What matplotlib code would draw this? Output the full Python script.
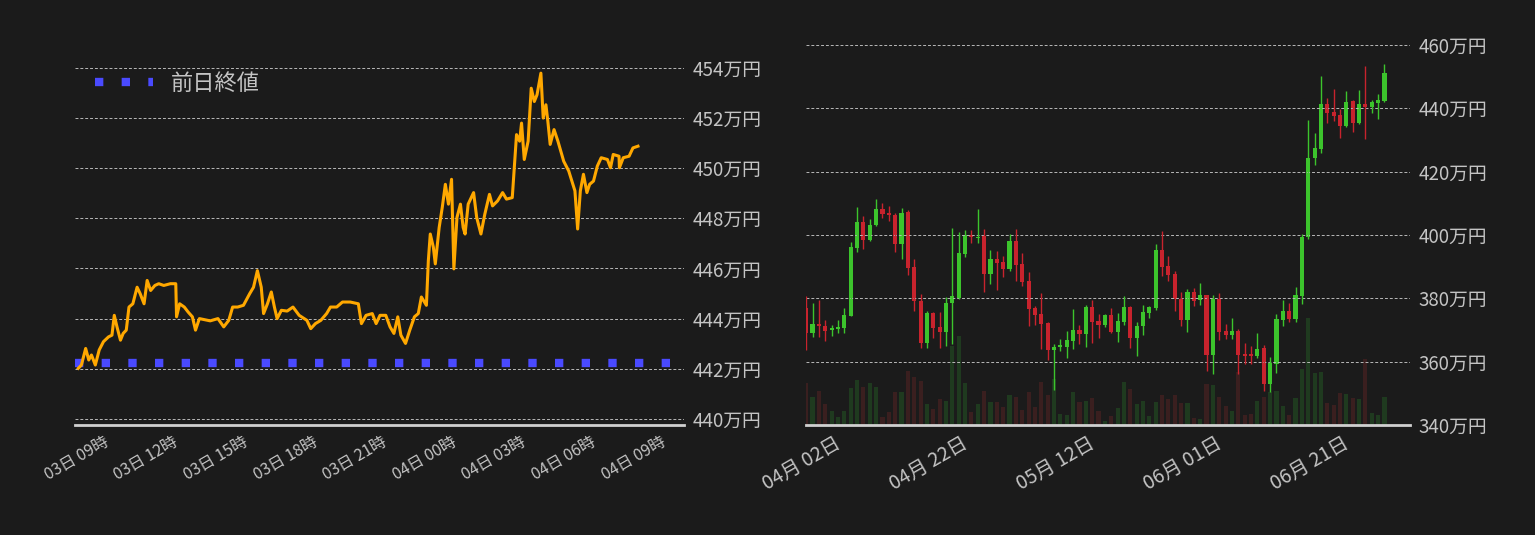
"""Intraday price line and daily candlestick chart (dark theme)."""

import datetime as dt

import matplotlib
matplotlib.use("Agg")
import matplotlib.dates as mdates
import matplotlib.pyplot as plt
from matplotlib.ticker import FuncFormatter

plt.rcParams["font.family"] = ["Noto Sans CJK JP", "DejaVu Sans"]

BG = "#1b1b1b"
TEXT = "#c4c4c4"
UP = "#3cc42c"
DOWN = "#c8232d"

# ---- left: intraday (minutes after 03日 07:22, price in 万円)
intraday_start = dt.datetime(2024, 6, 3, 7, 22)
elapsed_min = [
    12, 20, 31, 39, 46, 56, 66, 77, 90, 99, 105, 112, 121, 128, 136, 143, 153, 164, 172, 182,
    190, 199, 210, 220, 233, 250, 264, 266, 274, 286, 296, 307, 315, 325, 337, 353, 373, 388, 401, 411,
    424, 439, 455, 465, 475, 485, 491, 501, 511, 519, 526, 537, 552, 567, 583, 603, 613, 625, 639, 654,
    664, 680, 695, 715, 736, 744, 756, 772, 782, 792, 807, 818, 828, 838, 846, 858, 869, 881, 891, 899,
    912, 917, 922, 930, 935, 945, 953, 961, 969, 977, 983, 991, 1000, 1007, 1012, 1020, 1034, 1042, 1053, 1063,
    1075, 1083, 1096, 1109, 1119, 1134, 1145, 1153, 1158, 1165, 1175, 1183, 1191, 1198, 1208, 1214, 1221, 1226, 1232, 1242,
    1252, 1257, 1267, 1280, 1288, 1296, 1303, 1310, 1318, 1327, 1334, 1344, 1354, 1364, 1380, 1388, 1395, 1410, 1411, 1421,
    1436, 1446, 1459,
]
price = [
    442.02, 442.15, 442.81, 442.35, 442.55, 442.15, 442.75, 443.08, 443.27, 443.34,
    444.13, 443.67, 443.14, 443.41, 443.54, 444.46, 444.59, 445.25, 444.99, 444.59,
    445.52, 445.12, 445.32, 445.39, 445.32, 445.39, 445.39, 444.07, 444.59, 444.46,
    444.26, 444.07, 443.54, 444.00, 443.96, 443.91, 444.00, 443.67, 443.93, 444.46,
    444.46, 444.53, 444.99, 445.25, 445.91, 445.25, 444.20, 444.59, 445.06, 444.46,
    444.00, 444.33, 444.30, 444.46, 444.13, 443.93, 443.60, 443.80, 443.93, 444.20,
    444.46, 444.46, 444.66, 444.66, 444.59, 443.80, 444.13, 444.20, 443.80, 444.13,
    444.13, 443.67, 443.41, 444.07, 443.34, 443.01, 443.54, 444.07, 444.20, 444.86,
    444.53, 446.31, 447.37, 446.84, 446.18, 447.63, 448.43, 449.35, 448.56, 449.55,
    445.98, 448.03, 448.56, 447.63, 447.37, 448.56, 449.02, 448.03, 447.37, 448.16,
    448.95, 448.49, 448.69, 449.02, 448.76, 448.82, 451.33, 451.07, 451.79, 450.34,
    451.07, 453.18, 452.65, 452.92, 453.78, 451.99, 452.52, 451.86, 450.94, 451.53,
    451.07, 450.80, 450.27, 449.88, 449.48, 449.09, 447.57, 449.09, 449.75, 449.02,
    449.35, 449.48, 450.08, 450.41, 450.34, 450.01, 450.54, 450.47, 450.01, 450.41,
    450.47, 450.80, 450.87,
]
prev_close = 442.22

# ---- right: daily candles (万円) and volume (relative)
first_day = dt.date(2024, 3, 27)
open_ = [
    376.8, 369.2, 371.9, 371.2, 370.1, 370.4, 370.7, 374.5, 396.0, 404.1, 398.5, 403.0, 408.2, 407.0, 406.3, 397.0,
    407.3, 389.9, 379.2, 366.0, 375.4, 371.0, 369.5, 378.5, 380.2, 394.1, 400.0, 399.0, 399.7, 387.8, 392.4, 391.4,
    389.1, 398.1, 390.8, 385.5, 376.9, 375.0, 372.2, 363.8, 364.7, 364.7, 366.6, 370.0, 368.8, 377.3, 372.8, 371.7,
    374.7, 369.4, 372.6, 377.3, 367.6, 371.1, 375.5, 376.9, 395.3, 390.2, 387.7, 379.7, 373.0, 382.0, 379.4, 380.9,
    362.2, 379.9, 369.7, 368.4, 369.7, 362.4, 362.0, 361.9, 364.3, 353.1, 359.4, 373.3, 376.0, 373.6, 380.8, 399.2,
    424.4, 427.0, 441.4, 438.8, 437.9, 434.5, 442.3, 435.2, 441.4, 440.3, 441.8, 442.3,
]
high = [
    380.7, 378.4, 379.5, 373.2, 371.5, 373.2, 376.9, 397.8, 408.8, 406.0, 405.0, 411.5, 410.0, 409.0, 406.8, 408.4,
    408.0, 392.4, 381.4, 376.0, 375.6, 375.6, 380.5, 402.2, 400.8, 401.5, 401.5, 408.2, 401.9, 395.3, 395.0, 393.3,
    400.3, 401.8, 394.2, 388.3, 377.5, 381.7, 372.6, 365.6, 367.3, 369.7, 376.6, 371.6, 378.0, 379.5, 375.2, 375.0,
    376.8, 375.4, 380.7, 377.5, 372.6, 377.9, 377.6, 397.2, 401.2, 393.3, 388.5, 382.0, 383.0, 383.4, 384.7, 381.2,
    381.2, 381.6, 372.0, 373.8, 370.3, 366.0, 364.8, 369.0, 365.4, 361.6, 375.0, 379.4, 378.5, 383.5, 400.3, 436.3,
    432.2, 450.2, 443.1, 446.1, 439.7, 445.4, 442.5, 445.7, 453.4, 442.6, 444.4, 454.0,
]
low = [
    363.7, 367.9, 367.9, 366.5, 368.0, 369.0, 369.1, 374.3, 394.7, 395.6, 398.0, 402.7, 405.4, 404.4, 394.5, 392.5,
    387.4, 376.1, 364.4, 364.2, 367.5, 364.2, 365.0, 365.6, 379.8, 393.1, 397.4, 397.5, 382.0, 384.5, 382.7, 386.7,
    388.7, 385.6, 384.0, 371.1, 371.5, 364.1, 360.5, 351.0, 363.5, 361.2, 364.1, 365.6, 364.6, 366.0, 367.5, 371.0,
    369.1, 366.2, 371.5, 364.2, 361.9, 368.5, 373.7, 376.4, 387.1, 385.6, 376.1, 371.1, 369.5, 377.6, 377.9, 357.0,
    356.2, 366.8, 367.0, 367.2, 356.2, 359.4, 359.4, 361.0, 350.8, 350.4, 356.5, 371.1, 372.6, 372.6, 378.2, 398.6,
    422.1, 426.0, 435.5, 436.0, 430.6, 434.0, 432.6, 434.9, 430.4, 438.6, 436.6, 442.0,
]
close = [
    369.2, 371.9, 371.1, 369.8, 370.6, 370.9, 374.7, 396.2, 404.1, 398.5, 403.2, 408.2, 406.7, 406.3, 397.0, 407.0,
    389.7, 379.0, 366.0, 375.4, 370.7, 369.5, 378.5, 380.7, 394.3, 400.1, 399.2, 399.3, 387.8, 392.3, 391.3, 389.1,
    398.1, 390.6, 385.3, 376.7, 374.8, 372.0, 363.8, 364.6, 364.9, 366.8, 370.0, 368.8, 377.3, 372.6, 371.7, 374.7,
    369.4, 372.8, 377.3, 367.6, 371.3, 375.7, 377.3, 395.3, 390.0, 387.4, 379.7, 373.0, 382.0, 379.3, 381.0, 362.2,
    379.9, 369.5, 368.4, 369.7, 362.2, 361.8, 361.9, 364.0, 353.1, 359.6, 373.5, 376.0, 373.6, 381.0, 399.4, 424.3,
    427.4, 441.4, 438.6, 437.7, 434.5, 442.0, 435.2, 441.4, 440.3, 442.0, 442.6, 451.2,
]
volume = [
    42, 28, 34, 21, 14, 8, 14, 37, 45, 38, 42, 38, 8, 13, 33, 33,
    54, 48, 44, 21, 16, 26, 24, 79, 89, 42, 13, 21, 34, 23, 23, 18,
    30, 28, 15, 33, 18, 43, 30, 46, 11, 10, 33, 23, 24, 27, 14, 4,
    9, 17, 43, 36, 21, 24, 9, 23, 30, 26, 30, 22, 22, 7, 6, 41,
    40, 28, 19, 14, 53, 10, 11, 24, 28, 33, 34, 19, 10, 27, 56, 107,
    52, 53, 22, 20, 32, 31, 27, 26, 66, 12, 10, 28,
]
date_ticks = ["2024-04-02", "2024-04-22", "2024-05-12", "2024-06-01", "2024-06-21"]


def man_yen(v, _pos):
    return f"{v:.0f}万円"


def style_axes(ax):
    ax.set_facecolor(BG)
    for side in ("top", "left", "right"):
        ax.spines[side].set_visible(False)
    ax.spines["bottom"].set_color("#d0d0d0")
    ax.spines["bottom"].set_linewidth(2)
    ax.yaxis.tick_right()
    ax.tick_params(axis="both", colors=TEXT, length=0, labelsize=13.5, pad=6)
    ax.grid(axis="y", color="#b8b8b8", linestyle=(0, (3, 2)), linewidth=0.7)
    ax.yaxis.set_major_formatter(FuncFormatter(man_yen))


fig = plt.figure(figsize=(15.35, 5.35), dpi=100, facecolor=BG)

# left chart
ax1 = fig.add_axes([0.049, 0.2056, 0.3966, 0.7196])
style_axes(ax1)
times = [intraday_start + dt.timedelta(minutes=m) for m in elapsed_min]
ax1.plot(times, price, color="#ffa800", linewidth=2.2, zorder=3)
ax1.axhline(prev_close, color="#4a4aff", linewidth=6, linestyle=(0, (1, 2.2)),
            label="前日終値", zorder=2)
ax1.set_ylim(439.76, 455.1)
ax1.set_yticks(range(440, 455, 2))
ax1.set_xlim(dt.datetime(2024, 6, 3, 7, 26), dt.datetime(2024, 6, 4, 9, 40))
ax1.set_xticks([dt.datetime(2024, 6, 3, 9) + dt.timedelta(hours=3 * i) for i in range(9)])
ax1.xaxis.set_major_formatter(mdates.DateFormatter("%d日 %H時"))
plt.setp(ax1.get_xticklabels(), rotation=30, ha="right", fontsize=11.5)
ax1.legend(loc="upper left", frameon=False, fontsize=16, labelcolor=TEXT,
           handlelength=2.6, bbox_to_anchor=(0.0, 0.97))

# right chart (volume on a hidden twin axis behind the candles)
ax2 = fig.add_axes([0.525, 0.2056, 0.3935, 0.7383])
axv = ax2.twinx()
style_axes(ax2)
days = [first_day + dt.timedelta(days=i) for i in range(len(close))]
xnum = mdates.date2num(days)

axv.set_zorder(0)
ax2.set_zorder(1)
ax2.patch.set_visible(False)
axv.patch.set_visible(False)
vcol = ["#1f3a1f" if c >= o else "#3a1f1f" for o, c in zip(open_, close)]
axv.bar(xnum, volume, width=0.65, color=vcol)
axv.set_ylim(0, max(volume) * 395 / 107)
axv.axis("off")
fig.patch.set_facecolor(BG)

for x, o, h, l, c in zip(xnum, open_, high, low, close):
    col = UP if c >= o else DOWN
    ax2.vlines(x, l, h, color=col, linewidth=1)
    ax2.bar(x, max(abs(c - o), 0.4), bottom=min(o, c), width=0.65, color=col)

ax2.set_ylim(340, 464.7)
ax2.set_yticks(range(340, 461, 20))
ax2.set_xlim(xnum[0] - 0.05, xnum[0] + 95)
ax2.set_xticks(mdates.date2num([dt.date.fromisoformat(d) for d in date_ticks]))
ax2.xaxis.set_major_formatter(mdates.DateFormatter("%m月 %d日"))
plt.setp(ax2.get_xticklabels(), rotation=30, ha="right", fontsize=14)

fig.savefig("out.png", dpi=100, facecolor=BG)
